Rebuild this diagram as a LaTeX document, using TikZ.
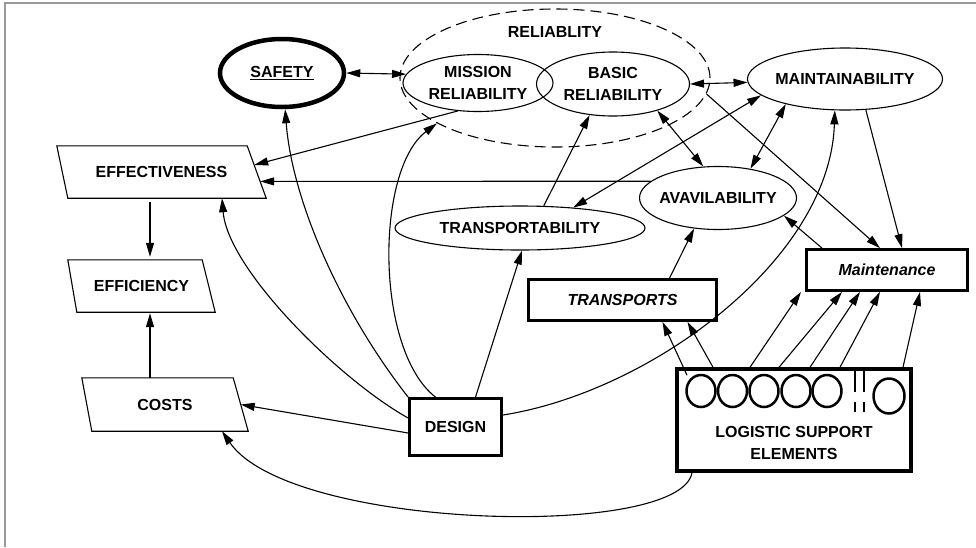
\documentclass[tikz,border=0pt]{standalone}
\usepackage{fontspec}
\setmainfont{Liberation Sans}
\usetikzlibrary{arrows.meta,shapes.geometric}
\begin{document}
\begin{tikzpicture}[x=1pt,y=-1pt,
  every node/.style={font=\fontsize{16}{22}\selectfont\bfseries, align=center, inner sep=0pt},
  ell/.style={draw, ellipse, line width=1.1pt},
  parbox/.style={rectangle, minimum width=#1},
  pline/.style={line width=1.1pt, line join=miter},
  thickbox/.style={draw, rectangle, line width=2.8pt},
  arr/.style={line width=1.1pt, -{Triangle[length=14pt,width=8pt]}},
  darr/.style={line width=1.1pt, {Triangle[length=14pt,width=8pt]}-{Triangle[length=14pt,width=8pt]}},
  deco/.style={line width=2.5pt}
]
\useasboundingbox (0,0) rectangle (976,547);
\draw[line width=2pt, gray!80] (5,547) -- (5,3) -- (976,3);

% ellipses
\node[ell, line width=4.5pt, minimum width=124pt, minimum height=68pt] (safety) at (282,73) {\underline{SAFETY}};
\node[ell, dash pattern=on 11pt off 6pt, minimum width=310pt, minimum height=138pt] (rel) at (555,78) {};
\node (rellabel) at (555,32) {RELIABLITY};
\node[ell, minimum width=150pt, minimum height=57pt] (mission) at (478,83) {MISSION\\RELIABILITY};
\node[ell, minimum width=153pt, minimum height=64pt] (basic) at (613,84) {BASIC\\RELIABILITY};
\node[ell, minimum width=195pt, minimum height=62pt] (maint) at (845,79) {\makebox[0pt]{MAINTAINABILITY}};
\node[ell, minimum width=157pt, minimum height=63pt] (avail) at (718,198) {\makebox[0pt]{AVAVILABILITY}};
\node[ell, minimum width=250pt, minimum height=44pt] (trans) at (520,228) {\makebox[0pt]{TRANSPORTABILITY}};

% parallelograms (node = bounding box, outline drawn from its anchors)
\node[parbox=209pt, minimum height=52pt] (eff) at (161.5,172) {EFFECTIVENESS};
\draw[pline] (eff.north west) -- ([xshift=-19pt]eff.north east) -- (eff.south east) -- ([xshift=11pt]eff.south west) -- cycle;
\node[parbox=147pt, minimum height=52pt] (effic) at (141.5,286) {EFFICIENCY};
\draw[pline] (effic.north west) -- ([xshift=-13pt]effic.north east) -- (effic.south east) -- ([xshift=9pt]effic.south west) -- cycle;
\node[parbox=166pt, minimum height=53pt] (costs) at (165,404.5) {COSTS};
\draw[pline] (costs.north west) -- ([xshift=-15pt]costs.north east) -- (costs.south east) -- ([xshift=10pt]costs.south west) -- cycle;

% boxes
\node[thickbox, minimum width=92pt, minimum height=57pt] (design) at (455.5,427) {DESIGN};
\node[thickbox, minimum width=188pt, minimum height=41pt] (tbox) at (622.5,300) {\itshape TRANSPORTS};
\node[thickbox, minimum width=161pt, minimum height=41pt] (mbox) at (887,270) {\itshape Maintenance};
\node[draw, line width=3.5pt, minimum width=234pt, minimum height=102pt] (lse) at (794,420) {};
\node (lsetext) at (794,442.5) {LOGISTIC SUPPORT\\ELEMENTS};

% logistic elements decoration
\foreach \cx in {701,732.5,764,796,827}
  \draw[deco] (\cx,391) ellipse [x radius=14.5pt, y radius=16pt];
\draw[deco] (889,396) ellipse [x radius=15.5pt, y radius=17.5pt];
\draw[deco] (855,371) -- (855,392) (855,402) -- (855,412)
            (864,371) -- (864,392) (864,402) -- (864,412);

% connectors
\draw[darr] (safety.east) -- (mission.173);
\draw[darr] (basic.east) -- (maint.182);
\draw[arr] (mission.234) -- ([xshift=-12pt,yshift=7pt]eff.east);
\draw[arr] (avail.166) -- ([xshift=-6pt,yshift=-9.4pt]eff.east);
\draw[arr, shorten <=4pt, shorten >=3pt] (eff.south -| 150,0) -- (effic.north -| 150,0);
\draw[arr, shorten >=1pt] (costs.north -| 150,0) -- (effic.south -| 150,0);
\draw[arr] ([yshift=-6pt]design.west) -- ([xshift=-7.5pt]costs.east);
\draw[arr] ([yshift=9pt]design.west) .. controls (340,380) and (228,270) .. ([xshift=60.5pt]eff.south);
\draw[arr] (design.north west) .. controls (340,310) and (292,200) .. (safety.-85);
\draw[arr] ([xshift=-20pt]design.north) .. controls (375,350) and (375,170) .. (rel.201);
\draw[arr] ([xshift=20pt]design.north) -- (trans.-85);
\draw[arr] (trans.43) -- (basic.233);
\draw[darr] (maint.191) -- (trans.21);
\draw[arr] (rel.-6) -- ([xshift=-7pt]mbox.north);
\draw[darr] (basic.-31) -- (avail.115);
\draw[darr] (maint.203) -- (avail.42);
\draw[arr] (maint.-56) -- ([xshift=15pt]mbox.north);
\draw[arr] ([xshift=-65pt]mbox.north) -- (avail.-15);
\draw[arr] ([xshift=47pt]tbox.north) -- (avail.232);
\draw[arr] ([xshift=-107pt,yshift=-8pt]lse.north) -- ([xshift=40pt]tbox.south);
\draw[arr] ([xshift=-81pt]lse.north) -- ([xshift=65pt]tbox.south);
\foreach \a/\b in {-44/-86, -15/-45, 16/-27, 46/-7, 109/33}
  \draw[arr] ([xshift=\a pt]lse.north) -- ([xshift=\b pt]mbox.south);
\draw[arr] ([yshift=12pt]design.east) .. controls (650,392) and (830,260) .. (maint.252);
\draw[arr] ([xshift=-102pt]lse.south) .. controls (680,540) and (290,530) .. ([xshift=57pt]costs.south);
\end{tikzpicture}
\end{document}
